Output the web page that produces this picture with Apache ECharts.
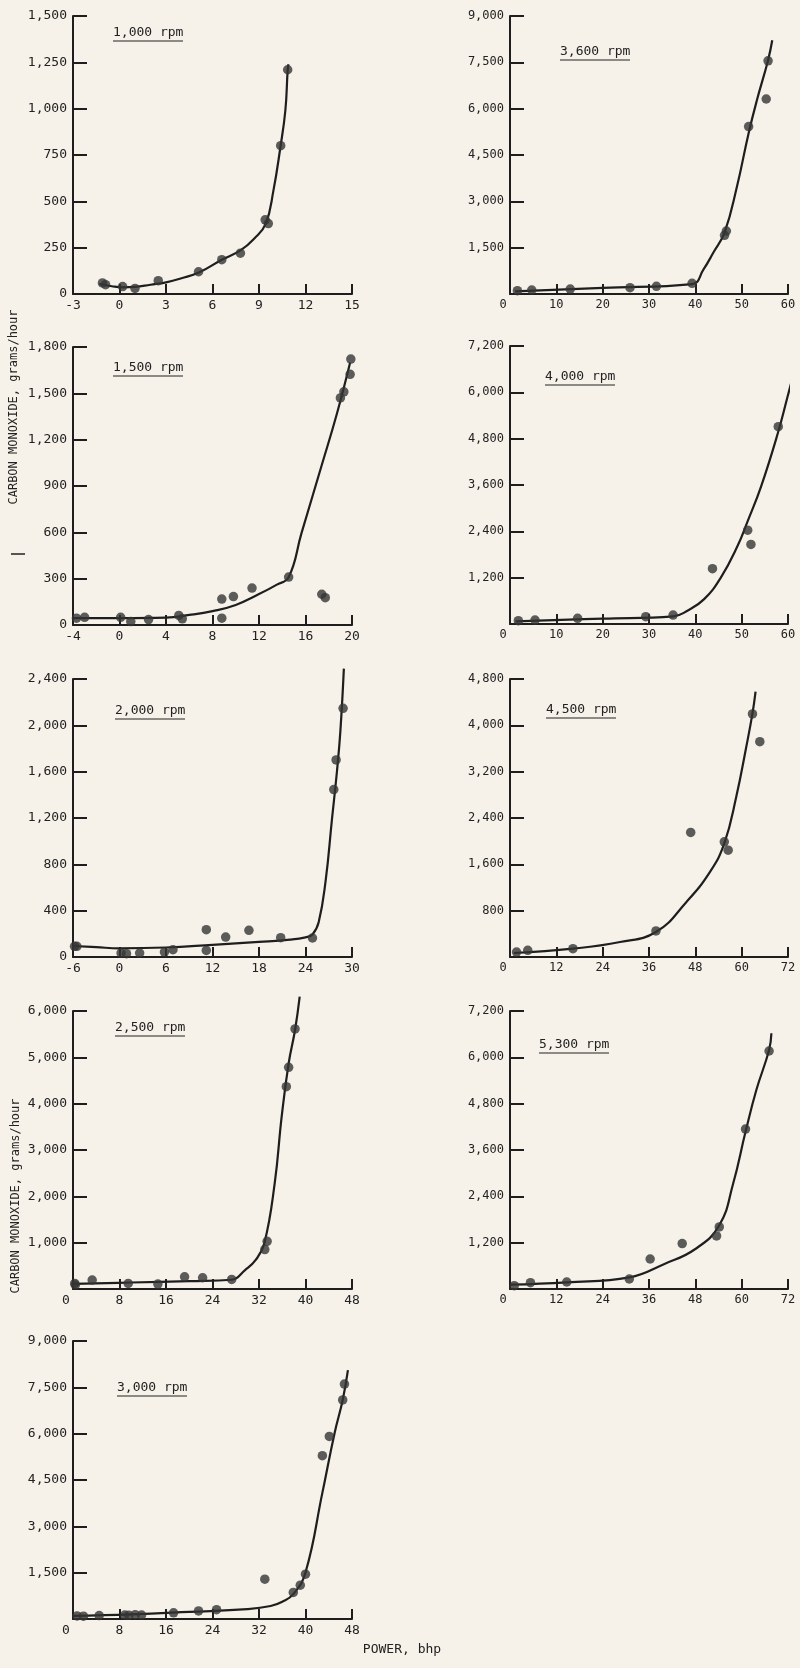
<!DOCTYPE html>
<html><head><meta charset="utf-8">
<script src="https://cdn.jsdelivr.net/npm/echarts@6/dist/echarts.min.js"></script>
<style>html,body{margin:0;padding:0;background:#f6f2e9;}#c{width:800px;height:1668px;}</style>
</head><body><div id="c"></div>
<script>
// ---------- data ----------
const panelTitles = ['1,000 rpm','1,500 rpm','2,000 rpm','2,500 rpm','3,000 rpm','3,600 rpm','4,000 rpm','4,500 rpm','5,300 rpm'];
const xMin  = [-3, -4, -6, 0, 0, 0, 0, 0, 0];
const xMax  = [15, 20, 30, 48, 48, 60, 60, 72, 72];
const xStep = [3, 4, 6, 8, 8, 10, 10, 12, 12];
const yMax  = [1500, 1800, 2400, 6000, 9000, 9000, 7200, 4800, 7200];
const yStep = [250, 300, 400, 1000, 1500, 1500, 1200, 800, 1200];
const yAxisName = 'CARBON MONOXIDE, grams/hour';
const xAxisName = 'POWER, bhp';

const pts1000 = [[-1.1,60],[-0.9,50],[0.2,40],[1.0,30],[2.5,72],[5.1,120],[6.6,185],[7.8,220],[9.4,400],[9.6,380],[10.4,800],[10.85,1210]];
const fit1000 = [[-1.3,54],[-0.5,42],[0.2,36],[1,38],[2,50],[3,63],[4,85],[5.15,117],[6.6,185],[7.8,235],[8.7,300],[9.43,378],[9.93,558],[10.38,792],[10.7,990],[10.85,1207],[10.9,1240]];

const pts1500 = [[-3.7,44],[-3.0,50],[0.1,50],[0.97,22],[2.5,35],[5.1,62],[5.4,40],[8.8,168],[8.8,44],[9.8,184],[11.4,239],[14.55,310],[17.4,199],[17.7,177],[19.0,1470],[19.3,1510],[19.84,1623],[19.9,1722]];
const fit1500 = [[-4,45],[0,45],[4,48],[6,65],[8,90],[10,130],[12,200],[13.5,260],[14.55,310],[15.65,593],[17.4,1036],[18.7,1368],[19.84,1700]];

const pts2000 = [[-5.8,92],[-5.5,92],[0.2,34],[0.9,29],[2.6,34],[5.8,43],[6.9,63],[11.2,57],[11.2,236],[13.7,172],[16.7,230],[20.8,167],[24.9,164],[27.65,1445],[27.95,1701],[28.85,2147],[28.95,2414]];
const fit2000 = [[-6,95],[-3,85],[0,75],[6,82],[12,105],[18,130],[22,150],[24,170],[24.9,195],[25.7,300],[26.6,660],[27.4,1180],[28.07,1610],[28.5,1950],[28.95,2490]];

const pts2500 = [[0.3,121],[0.4,86],[3.3,193],[9.5,121],[14.6,107],[19.2,264],[22.3,243],[27.3,207],[33.0,850],[33.4,1029],[36.7,4367],[37.1,4784],[38.2,5612]];
const fit2500 = [[0,110],[10,140],[20,170],[27.3,200],[29.6,407],[31.4,621],[32.9,979],[34.7,2281],[35.9,3719],[37.1,4870],[38.2,5590],[39.0,6309]];

const pts3000 = [[0.7,100],[1.8,90],[4.5,110],[8.9,130],[9.6,120],[10.7,140],[11.8,130],[17.3,200],[21.6,260],[24.7,300],[33.0,1289],[37.9,860],[39.1,1096],[40.0,1451],[42.9,5287],[44.1,5910],[46.4,7092],[46.7,7607]];
const fit3000 = [[0,100],[10,150],[20,230],[30,320],[34,420],[36,560],[37.9,806],[40,1504],[42.9,4083],[45,6017],[46.4,7092],[47.3,8059]];

const pts3600 = [[1.6,107],[4.7,129],[13.0,161],[25.9,204],[31.6,247],[39.3,344],[46.3,1900],[46.7,2040],[51.5,5422],[55.3,6313],[55.7,7548]];
const fit3600 = [[1.1,86],[20,200],[39.3,322],[41.8,805],[43.9,1342],[46.3,1986],[49.0,3490],[51.5,5207],[53.3,6281],[55.7,7570],[56.6,8214]];

const pts4000 = [[1.8,86],[5.4,103],[14.6,146],[29.3,189],[35.2,232],[43.7,1434],[51.3,2431],[52.0,2062],[57.9,5111],[60.2,6142]];
const fit4000 = [[1.2,69],[20,140],[35.2,198],[38.3,344],[41.9,644],[45.5,1203],[49.1,2019],[51.3,2663],[54.2,3565],[57.8,4939],[59.9,5884],[61.2,6485]];

const pts4500 = [[1.7,86],[4.6,115],[16.3,144],[37.8,450],[46.8,2150],[55.5,1988],[56.5,1844],[62.8,4196],[64.7,3718]];
const fit4500 = [[1.0,69],[16.3,144],[28.5,259],[37.8,432],[45.7,951],[51.8,1470],[55.5,1960],[58.6,2767],[61.2,3631],[62.8,4207],[63.6,4582]];

const pts5300 = [[1.1,86],[5.3,164],[14.7,181],[30.9,259],[36.3,777],[44.6,1176],[53.5,1375],[54.2,1608],[61.0,4141],[67.1,6164]];
const fit5300 = [[0,112],[14.7,173],[30.9,302],[40,650],[48,1036],[54.2,1651],[57.8,2732],[61.0,4071],[63.8,5153],[67.1,6190],[67.7,6622]];

const allPts = [pts1000, pts1500, pts2000, pts2500, pts3000, pts3600, pts4000, pts4500, pts5300];
const allFit = [fit1000, fit1500, fit2000, fit2500, fit3000, fit3600, fit4000, fit4500, fit5300];

// ---------- layout / style ----------
const gridLeft = [73,73,73,73,73,510,510,510,510];
const gridTop  = [16,347,679,1011,1341,16,346,679,1011];
const gridW    = [279,279,279,279,279,278,278,278,278];
const gridH    = 278;
const titlePos = [[113,33],[113,368],[115,711],[115,1028],[117,1388],[560,52],[545,377],[546,710],[539,1045]];
const FONT = '"DejaVu Sans Mono", "Liberation Mono", monospace';
const INK = '#1e1e1e';
const TXT = '#222222';

const fmt = v => Math.abs(v) >= 1000 ? v.toLocaleString('en-US') : String(v);

const grids = [], xAxes = [], yAxes = [], series = [], graphics = [];
for (let i = 0; i < 9; i++) {
  const fs = i < 5 ? 13 : 12;
  grids.push({left: gridLeft[i], top: gridTop[i], width: gridW[i], height: gridH, containLabel: false});
  const zeroStart = xMin[i] === 0;
  xAxes.push({
    gridIndex: i, type: 'value', min: xMin[i], max: xMax[i], interval: xStep[i],
    axisLine: {onZero: false, lineStyle: {color: INK, width: 2}},
    axisTick: {inside: true, length: 10, lineStyle: {color: INK, width: 2}},
    splitLine: {show: false},
    axisLabel: {
      margin: 5, color: TXT, fontFamily: FONT, fontSize: fs,
      formatter: v => (v === 0 && zeroStart) ? '{z|0}' : fmt(v),
      rich: {z: {padding: [0, 14, 0, 0], color: TXT, fontFamily: FONT, fontSize: fs}}
    }
  });
  yAxes.push({
    gridIndex: i, type: 'value', min: 0, max: yMax[i], interval: yStep[i],
    axisLine: {onZero: false, lineStyle: {color: INK, width: 2}},
    axisTick: {inside: true, length: 14, lineStyle: {color: INK, width: 2}},
    splitLine: {show: false},
    axisLabel: {
      margin: 6, color: TXT, fontFamily: FONT, fontSize: fs,
      formatter: v => (v === 0 && zeroStart) ? '' : fmt(v)
    }
  });
  series.push({
    type: 'line', xAxisIndex: i, yAxisIndex: i, data: allFit[i],
    smooth: 0.45, showSymbol: false, symbol: 'none',
    lineStyle: {color: INK, width: 2.2}, clip: false, silent: true, z: 2
  });
  series.push({
    type: 'scatter', xAxisIndex: i, yAxisIndex: i, data: allPts[i],
    symbol: 'circle', symbolSize: 9.5, itemStyle: {color: '#353535'}, silent: true, z: 3
  });
  graphics.push({
    type: 'text', x: titlePos[i][0], y: titlePos[i][1],
    style: {text: panelTitles[i], fontSize: 13, fontFamily: FONT, fill: TXT, verticalAlign: 'middle', align: 'left'}
  });
  graphics.push({
    type: 'line', shape: {x1: titlePos[i][0], y1: titlePos[i][1] + 8, x2: titlePos[i][0] + 70, y2: titlePos[i][1] + 8},
    style: {stroke: TXT, lineWidth: 1.2}
  });
}
graphics.push({type: 'text', x: 14, y: 407, rotation: Math.PI / 2,
  style: {text: yAxisName, fontSize: 12, fontFamily: FONT, fill: TXT, align: 'center', verticalAlign: 'middle'}});
graphics.push({type: 'text', x: 16, y: 1196, rotation: Math.PI / 2,
  style: {text: yAxisName, fontSize: 12, fontFamily: FONT, fill: TXT, align: 'center', verticalAlign: 'middle'}});
graphics.push({type: 'text', x: 402, y: 1650,
  style: {text: xAxisName, fontSize: 13, fontFamily: FONT, fill: TXT, align: 'center', verticalAlign: 'middle'}});
graphics.push({type: 'line', shape: {x1: 11, y1: 554, x2: 25, y2: 554}, style: {stroke: TXT, lineWidth: 1.5}});

const chart = echarts.init(document.getElementById('c'), null, {renderer: 'canvas'});
chart.setOption({
  backgroundColor: '#f6f2e9',
  animation: false,
  grid: grids, xAxis: xAxes, yAxis: yAxes, series: series, graphic: graphics
});
</script></body></html>
